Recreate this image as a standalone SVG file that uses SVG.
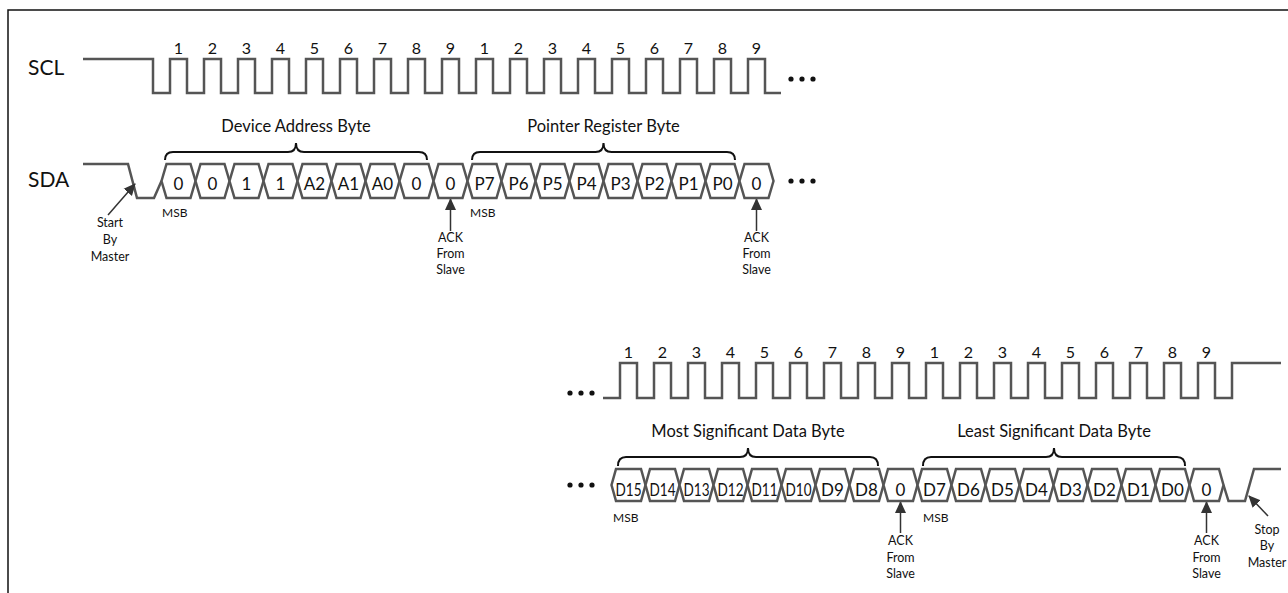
<svg xmlns="http://www.w3.org/2000/svg" xmlns:xlink="http://www.w3.org/1999/xlink" width="1288" height="593" viewBox="0 0 1288 593">
<style>
.wave{fill:none;stroke:#555;stroke-width:2.5;stroke-linejoin:miter}
.hex{fill:#fff;stroke:#555;stroke-width:2.5;stroke-linejoin:miter}
.brace{fill:none;stroke:#111;stroke-width:2}
.frame{fill:none;stroke:#111;stroke-width:1.5}
text{font-family:Lato,"Open Sans","Liberation Sans",sans-serif;fill:#111}
.sig{font-size:21px}
.num{font-size:16px;text-anchor:middle}
.bit{font-size:17px;text-anchor:middle}
.ttl{font-size:16.5px;text-anchor:middle}
.msb{font-size:12px}
.note{font-size:12.5px;text-anchor:middle}
.arr{stroke:#333;stroke-width:1.5;fill:none}
.dot{fill:#111}
</style>
<defs>
<polygon id="hexT" points="0,17 5,0 29,0 34,17 29,34 5,34"/>
<polygon id="hexB" points="0,16 4.5,0 29.5,0 34,16 29.5,32 4.5,32"/>
<marker id="ah" viewBox="0 0 12 12" refX="11" refY="6" markerWidth="12" markerHeight="12" markerUnits="userSpaceOnUse" orient="auto">
<path d="M0,0.5 L12,6 L0,11.5 Z" fill="#333"/>
</marker>
</defs>
<path class="frame" d="M8,593 V10 H1288"/>

<g id="labels">
<text class="sig" x="28" y="75">SCL</text>
<text class="sig" x="28" y="187">SDA</text>
</g>

<g id="connectors">
<path class="wave" d="M83,59 H153 V93 H170 V59 H187 V93 H204 V59 H221 V93 H238 V59 H255 V93 H272 V59 H289 V93 H306 V59 H323 V93 H340 V59 H357 V93 H374 V59 H391 V93 H408 V59 H425 V93 H442 V59 H459 V93 H476 V59 H493 V93 H510 V59 H527 V93 H544 V59 H561 V93 H578 V59 H595 V93 H612 V59 H629 V93 H646 V59 H663 V93 H680 V59 H697 V93 H714 V59 H731 V93 H748 V59 H765 V93 H781"/>
<path class="wave" d="M603,398 H620 V363 H637 V398 H654 V363 H671 V398 H688 V363 H705 V398 H722 V363 H739 V398 H756 V363 H773 V398 H790 V363 H807 V398 H824 V363 H841 V398 H858 V363 H875 V398 H892 V363 H909 V398 H926 V363 H943 V398 H960 V363 H977 V398 H994 V363 H1011 V398 H1028 V363 H1045 V398 H1062 V363 H1079 V398 H1096 V363 H1113 V398 H1130 V363 H1147 V398 H1164 V363 H1181 V398 H1198 V363 H1215 V398 H1232 V363 H1281"/>
<path class="wave" d="M83,164 H128 L137,198 H154 L161.5,181"/>
<path class="wave" d="M1223.5,485 L1228.5,501 H1245 L1254,469 H1281"/>
<line class="arr" x1="450.5" y1="231" x2="450.5" y2="199" marker-end="url(#ah)"/>
<line class="arr" x1="756.5" y1="231" x2="756.5" y2="199" marker-end="url(#ah)"/>
<line class="arr" x1="900.5" y1="533" x2="900.5" y2="502" marker-end="url(#ah)"/>
<line class="arr" x1="1206.5" y1="533" x2="1206.5" y2="502" marker-end="url(#ah)"/>
<line class="arr" x1="108" y1="215" x2="135" y2="184" marker-end="url(#ah)"/>
<line class="arr" x1="1268" y1="516" x2="1249" y2="496" marker-end="url(#ah)"/>
</g>

<g id="scl-numbers-top">
<text class="num" x="178.5" y="54">1</text><text class="num" x="212.5" y="54">2</text><text class="num" x="246.5" y="54">3</text><text class="num" x="280.5" y="54">4</text><text class="num" x="314.5" y="54">5</text><text class="num" x="348.5" y="54">6</text><text class="num" x="382.5" y="54">7</text><text class="num" x="416.5" y="54">8</text><text class="num" x="450.5" y="54">9</text>
<text class="num" x="484.5" y="54">1</text><text class="num" x="518.5" y="54">2</text><text class="num" x="552.5" y="54">3</text><text class="num" x="586.5" y="54">4</text><text class="num" x="620.5" y="54">5</text><text class="num" x="654.5" y="54">6</text><text class="num" x="688.5" y="54">7</text><text class="num" x="722.5" y="54">8</text><text class="num" x="756.5" y="54">9</text>
</g>
<g id="scl-numbers-bottom">
<text class="num" x="628.5" y="358">1</text><text class="num" x="662.5" y="358">2</text><text class="num" x="696.5" y="358">3</text><text class="num" x="730.5" y="358">4</text><text class="num" x="764.5" y="358">5</text><text class="num" x="798.5" y="358">6</text><text class="num" x="832.5" y="358">7</text><text class="num" x="866.5" y="358">8</text><text class="num" x="900.5" y="358">9</text>
<text class="num" x="934.5" y="358">1</text><text class="num" x="968.5" y="358">2</text><text class="num" x="1002.5" y="358">3</text><text class="num" x="1036.5" y="358">4</text><text class="num" x="1070.5" y="358">5</text><text class="num" x="1104.5" y="358">6</text><text class="num" x="1138.5" y="358">7</text><text class="num" x="1172.5" y="358">8</text><text class="num" x="1206.5" y="358">9</text>
</g>

<g id="dots">
<circle class="dot" cx="791" cy="79" r="2.6"/><circle class="dot" cx="802" cy="79" r="2.6"/><circle class="dot" cx="813" cy="79" r="2.6"/>
<circle class="dot" cx="791" cy="181" r="2.6"/><circle class="dot" cx="802" cy="181" r="2.6"/><circle class="dot" cx="813" cy="181" r="2.6"/>
<circle class="dot" cx="570" cy="393" r="2.6"/><circle class="dot" cx="581" cy="393" r="2.6"/><circle class="dot" cx="592" cy="393" r="2.6"/>
<circle class="dot" cx="570" cy="485" r="2.6"/><circle class="dot" cx="581" cy="485" r="2.6"/><circle class="dot" cx="592" cy="485" r="2.6"/>
</g>

<g id="device-address">
<g id="bit-a6"><use href="#hexT" class="hex" x="161.5" y="164"/><text class="bit" x="178.5" y="190">0</text></g>
<g id="bit-a5"><use href="#hexT" class="hex" x="195.5" y="164"/><text class="bit" x="212.5" y="190">0</text></g>
<g id="bit-a4"><use href="#hexT" class="hex" x="229.5" y="164"/><text class="bit" x="246.5" y="190">1</text></g>
<g id="bit-a3"><use href="#hexT" class="hex" x="263.5" y="164"/><text class="bit" x="280.5" y="190">1</text></g>
<g id="bit-a2"><use href="#hexT" class="hex" x="297.5" y="164"/><text class="bit" x="314.5" y="190">A2</text></g>
<g id="bit-a1"><use href="#hexT" class="hex" x="331.5" y="164"/><text class="bit" x="348.5" y="190">A1</text></g>
<g id="bit-a0"><use href="#hexT" class="hex" x="365.5" y="164"/><text class="bit" x="382.5" y="190">A0</text></g>
<g id="bit-rw"><use href="#hexT" class="hex" x="399.5" y="164"/><text class="bit" x="416.5" y="190">0</text></g>
<g id="ack1"><use href="#hexT" class="hex" x="433.5" y="164"/><text class="bit" x="450.5" y="190">0</text></g>
</g>
<g id="pointer-register">
<g id="bit-p7"><use href="#hexT" class="hex" x="467.5" y="164"/><text class="bit" x="484.5" y="190">P7</text></g>
<g id="bit-p6"><use href="#hexT" class="hex" x="501.5" y="164"/><text class="bit" x="518.5" y="190">P6</text></g>
<g id="bit-p5"><use href="#hexT" class="hex" x="535.5" y="164"/><text class="bit" x="552.5" y="190">P5</text></g>
<g id="bit-p4"><use href="#hexT" class="hex" x="569.5" y="164"/><text class="bit" x="586.5" y="190">P4</text></g>
<g id="bit-p3"><use href="#hexT" class="hex" x="603.5" y="164"/><text class="bit" x="620.5" y="190">P3</text></g>
<g id="bit-p2"><use href="#hexT" class="hex" x="637.5" y="164"/><text class="bit" x="654.5" y="190">P2</text></g>
<g id="bit-p1"><use href="#hexT" class="hex" x="671.5" y="164"/><text class="bit" x="688.5" y="190">P1</text></g>
<g id="bit-p0"><use href="#hexT" class="hex" x="705.5" y="164"/><text class="bit" x="722.5" y="190">P0</text></g>
<g id="ack2"><use href="#hexT" class="hex" x="739.5" y="164"/><text class="bit" x="756.5" y="190">0</text></g>
</g>

<g id="ms-data">
<g id="bit-d15"><use href="#hexB" class="hex" x="611.5" y="469"/><text class="bit" x="628.5" y="496" textLength="26" lengthAdjust="spacingAndGlyphs">D15</text></g>
<g id="bit-d14"><use href="#hexB" class="hex" x="645.5" y="469"/><text class="bit" x="662.5" y="496" textLength="26" lengthAdjust="spacingAndGlyphs">D14</text></g>
<g id="bit-d13"><use href="#hexB" class="hex" x="679.5" y="469"/><text class="bit" x="696.5" y="496" textLength="26" lengthAdjust="spacingAndGlyphs">D13</text></g>
<g id="bit-d12"><use href="#hexB" class="hex" x="713.5" y="469"/><text class="bit" x="730.5" y="496" textLength="26" lengthAdjust="spacingAndGlyphs">D12</text></g>
<g id="bit-d11"><use href="#hexB" class="hex" x="747.5" y="469"/><text class="bit" x="764.5" y="496" textLength="26" lengthAdjust="spacingAndGlyphs">D11</text></g>
<g id="bit-d10"><use href="#hexB" class="hex" x="781.5" y="469"/><text class="bit" x="798.5" y="496" textLength="26" lengthAdjust="spacingAndGlyphs">D10</text></g>
<g id="bit-d9"><use href="#hexB" class="hex" x="815.5" y="469"/><text class="bit" x="832.5" y="496">D9</text></g>
<g id="bit-d8"><use href="#hexB" class="hex" x="849.5" y="469"/><text class="bit" x="866.5" y="496">D8</text></g>
<g id="ack3"><use href="#hexB" class="hex" x="883.5" y="469"/><text class="bit" x="900.5" y="496">0</text></g>
</g>
<g id="ls-data">
<g id="bit-d7"><use href="#hexB" class="hex" x="917.5" y="469"/><text class="bit" x="934.5" y="496">D7</text></g>
<g id="bit-d6"><use href="#hexB" class="hex" x="951.5" y="469"/><text class="bit" x="968.5" y="496">D6</text></g>
<g id="bit-d5"><use href="#hexB" class="hex" x="985.5" y="469"/><text class="bit" x="1002.5" y="496">D5</text></g>
<g id="bit-d4"><use href="#hexB" class="hex" x="1019.5" y="469"/><text class="bit" x="1036.5" y="496">D4</text></g>
<g id="bit-d3"><use href="#hexB" class="hex" x="1053.5" y="469"/><text class="bit" x="1070.5" y="496">D3</text></g>
<g id="bit-d2"><use href="#hexB" class="hex" x="1087.5" y="469"/><text class="bit" x="1104.5" y="496">D2</text></g>
<g id="bit-d1"><use href="#hexB" class="hex" x="1121.5" y="469"/><text class="bit" x="1138.5" y="496">D1</text></g>
<g id="bit-d0"><use href="#hexB" class="hex" x="1155.5" y="469"/><text class="bit" x="1172.5" y="496">D0</text></g>
<g id="ack4"><use href="#hexB" class="hex" x="1189.5" y="469"/><text class="bit" x="1206.5" y="496">0</text></g>
</g>

<g id="braces">
<path class="brace" d="M165,160 Q165,152 173,152 H288 Q296,152 296,143 Q296,152 304,152 H419 Q427,152 427,160"/>
<path class="brace" d="M472,160 Q472,152 480,152 H595.5 Q603.5,152 603.5,143 Q603.5,152 611.5,152 H727 Q735,152 735,160"/>
<path class="brace" d="M618,466 Q618,457 626,457 H740 Q748,457 748,448 Q748,457 756,457 H870 Q878,457 878,466"/>
<path class="brace" d="M923,466 Q923,457 931,457 H1046 Q1054,457 1054,448 Q1054,457 1062,457 H1177 Q1185,457 1185,466"/>
<text class="ttl" x="296" y="132">Device Address Byte</text>
<text class="ttl" x="603.5" y="132">Pointer Register Byte</text>
<text class="ttl" x="748" y="437">Most Significant Data Byte</text>
<text class="ttl" x="1054" y="437">Least Significant Data Byte</text>
</g>

<g id="annotations">
<text class="msb" x="162" y="217">MSB</text>
<text class="msb" x="470" y="217">MSB</text>
<text class="msb" x="613" y="522">MSB</text>
<text class="msb" x="923" y="522">MSB</text>
<text class="note" x="110" y="227">Start</text><text class="note" x="110" y="244">By</text><text class="note" x="110" y="261">Master</text>
<text class="note" x="450.5" y="242">ACK</text><text class="note" x="450.5" y="258">From</text><text class="note" x="450.5" y="274">Slave</text>
<text class="note" x="756.5" y="242">ACK</text><text class="note" x="756.5" y="258">From</text><text class="note" x="756.5" y="274">Slave</text>
<text class="note" x="900.5" y="545">ACK</text><text class="note" x="900.5" y="562">From</text><text class="note" x="900.5" y="578">Slave</text>
<text class="note" x="1206.5" y="545">ACK</text><text class="note" x="1206.5" y="562">From</text><text class="note" x="1206.5" y="578">Slave</text>
<text class="note" x="1267" y="534">Stop</text><text class="note" x="1267" y="550">By</text><text class="note" x="1267" y="567">Master</text>
</g>
</svg>
